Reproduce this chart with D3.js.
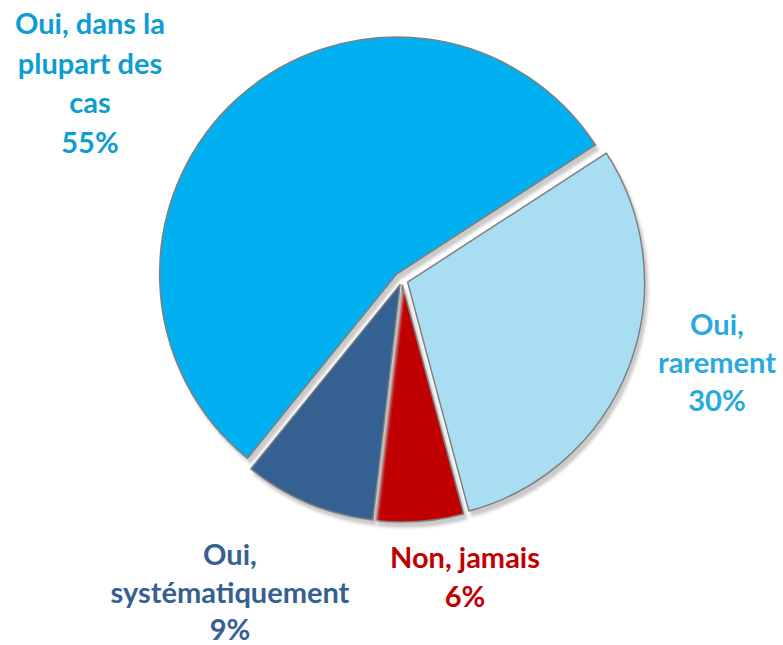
<!DOCTYPE html>
<html>
<head>
<meta charset="utf-8">
<script src="https://cdn.jsdelivr.net/npm/d3@7"></script>
<style>
  body { margin: 0; background: #fff; }
  svg { display: block; }
</style>
</head>
<body>
<svg id="chart" width="783" height="645"></svg>
<script>
// slices, clockwise from the upper-right edge
const categories = ["Oui, rarement", "Non, jamais", "Oui, systématiquement", "Oui, dans la plupart des cas"];
const values = [30, 6, 9, 55];
const labelLines = [["Oui,", "rarement"], ["Non, jamais"], ["Oui,", "systématiquement"], ["Oui, dans la", "plupart des", "cas"]];

// styles / layout
const sliceColors = ["#A9DDF1", "#C00000", "#366092", "#00B0F0"];
const textColors = ["#2AA9DE", "#C00000", "#366092", "#0E9DD0"];
const explode = [6, 5, 5, 8];
const labelPos = [[717, 323], [465, 556], [230, 553], [90, 22]]; // centre of first line
const lineH = [38, 39, 37.5, 39.5];

const width = 783, height = 645;
const cx = 402, cy = 280, radius = 237;
const startDeg = 57;

const svg = d3.select("#chart");

const defs = svg.append("defs");
const f = defs.append("filter").attr("id", "shadow")
  .attr("x", "-20%").attr("y", "-20%").attr("width", "140%").attr("height", "140%");
f.append("feDropShadow")
  .attr("dx", 3).attr("dy", 5)
  .attr("stdDeviation", 1.6)
  .attr("flood-color", "#c4c4c4")
  .attr("flood-opacity", 0.9);

const pie = d3.pie().sort(null)
  .startAngle(startDeg * Math.PI / 180)
  .endAngle(startDeg * Math.PI / 180 + 2 * Math.PI);
const arcs = pie(values);

const arc = d3.arc().innerRadius(0).outerRadius(radius);

const g = svg.append("g").attr("transform", `translate(${cx},${cy})`);

g.selectAll("path.slice")
  .data(arcs)
  .join("path")
  .attr("class", "slice")
  .attr("transform", (d, i) => {
    const a = (d.startAngle + d.endAngle) / 2;
    return `translate(${Math.sin(a) * explode[i]},${-Math.cos(a) * explode[i]})`;
  })
  .attr("d", arc)
  .attr("fill", (d, i) => sliceColors[i])
  .attr("stroke", "#7f7f7f")
  .attr("stroke-width", 1.5)
  .attr("stroke-linejoin", "round")
  .attr("filter", "url(#shadow)");

// labels
const labels = svg.append("g")
  .attr("font-family", "Lato, 'Open Sans', sans-serif")
  .attr("font-weight", "bold")
  .attr("font-size", 29)
  .attr("text-anchor", "middle");

categories.forEach((c, i) => {
  const lines = labelLines[i].concat([values[i] + "%"]);
  const t = labels.append("text")
    .attr("fill", textColors[i])
    .attr("x", labelPos[i][0])
    .attr("y", labelPos[i][1])
    .attr("dominant-baseline", "central");
  lines.forEach((ln, k) => {
    t.append("tspan")
      .attr("x", labelPos[i][0])
      .attr("y", labelPos[i][1] + k * lineH[i])
      .text(ln);
  });
});
</script>
</body>
</html>
